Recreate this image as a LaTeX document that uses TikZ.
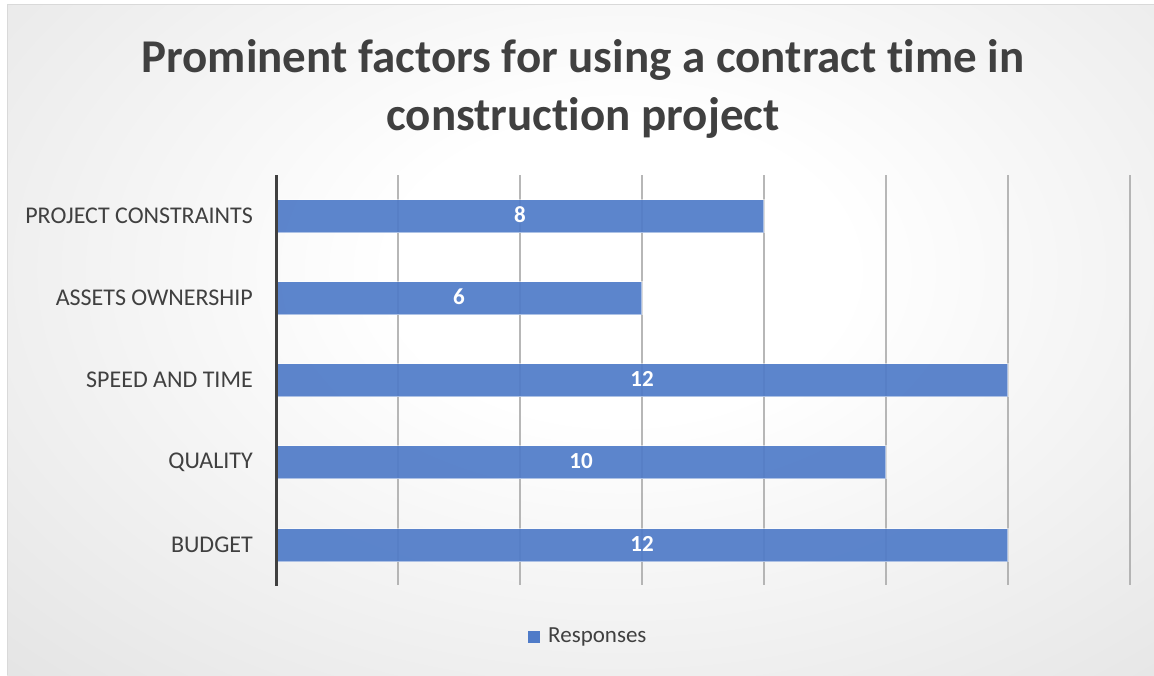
\documentclass[tikz,border=0pt]{standalone}
\usepackage{fontspec}
\setmainfont{Carlito}[Ligatures=NoCommon,RawFeature=-liga;-clig;-dlig]
\newcommand\tI{t\kern0pt i}
\pgfdeclareradialshading{bgshade}{\pgfpoint{0bp}{0bp}}{color(0bp)=(white); color(9bp)=(white); color(72bp)=(black!26)}
\begin{document}
\begin{tikzpicture}[x=1pt,y=-1pt,
  txt/.style={text=textgray,inner sep=0pt},
  grid/.style={line width=2pt,draw=gridgray,draw opacity=0.8},
  bar/.style={fill=barblue,fill opacity=0.92,draw=white,draw opacity=0.5,line width=1.2pt},
  barlabel/.style={text=white,font=\fontsize{23}{27}\selectfont\bfseries,inner sep=0pt},
  catlabel/.style={txt,anchor=east,font=\fontsize{24}{28}\selectfont}]
\definecolor{textgray}{HTML}{404040}
\definecolor{gridgray}{HTML}{A6A6A6}
\definecolor{barblue}{HTML}{4F7BC8}
\useasboundingbox (0,0) rectangle (1154,675);
\fill[white] (0,0) rectangle (1154,675);
\begin{scope}
  \clip (7,4) rectangle (1154,675);
  \shade[shading=bgshade] (-20,-150) rectangle (1260,690);
\end{scope}
\draw[white!85!black,line width=0.8pt] (7,675) -- (7,4) -- (1154,4);
% title
\node[txt,font=\fontsize{47}{58}\selectfont\bfseries,align=center] (title) at (583,89)
  {Prominent factors for using a contract \tI me in\\construc\tI on project};
% gridlines
\foreach \i in {1,...,7} {
  \draw[grid] (276+\i*122,175) -- (276+\i*122,585);
}
% bars
\coordinate (o1) at (276,216);
\coordinate (o2) at (276,298);
\coordinate (o3) at (276,380);
\coordinate (o4) at (276,462);
\coordinate (o5) at (276,545);
\foreach \n/\v/\lab in {1/8/PROJECT CONSTRAINTS,2/6/ASSETS OWNERSHIP,3/12/SPEED AND TIME,4/10/QUALITY,5/12/BUDGET} {
  \draw[bar] ([yshift=-16.5]o\n) rectangle ([xshift=\v*61,yshift=16.5]o\n);
  \node[barlabel] (v\n) at ([xshift=\v*30.5,yshift=1]o\n) {\v};
  \node[catlabel] (c\n) at ([xshift=-23,yshift=0]o\n) {\lab};
}
% axis
\draw[line width=3pt,draw=textgray] (276,175) -- (276,586);
% legend
\fill[barblue] (528,631) rectangle (540,643);
\node[txt,anchor=west,font=\fontsize{23}{27}\selectfont] (leg) at (548,637) {Responses};
\end{tikzpicture}
\end{document}
